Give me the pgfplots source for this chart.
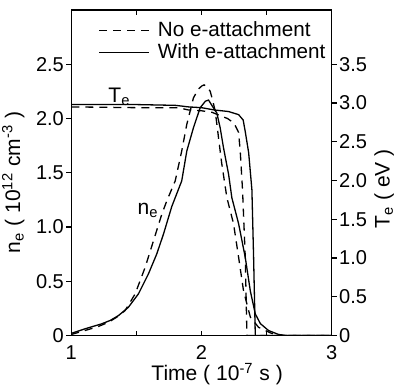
\documentclass[border=0pt]{standalone}
\usepackage{fontspec}
\setmainfont{Liberation Sans}
\usepackage{pgfplots}
\pgfplotsset{compat=1.18}
\begin{document}
\begin{tikzpicture}[font=\fontsize{10}{12}\selectfont]
\pgfplotsset{every axis/.append style={
  scale only axis, width=130pt, height=162.5pt, xmin=1, xmax=3,
  /pgf/number format/assume math mode=true,
  axis line style={line width=0.75pt},
  major tick style={line width=0.6pt, black},
  major tick length=2.5pt,
  tick label style={font=\fontsize{10}{12}\selectfont},
  yticklabel style={inner xsep=1pt},
  label style={font=\fontsize{10.5}{12}\selectfont, inner sep=1pt},
}}
\begin{axis}[name=ax, ymin=0, ymax=3,
  xtick={1,1.5,2,2.5,3}, xticklabels={1,,2,,3},
  ytick={0,0.5,1,1.5,2,2.5}, yticklabels={0,0.5,1.0,1.5,2.0,2.5},
  xtick pos=both, xticklabel pos=bottom, ytick pos=left, xtick align=inside, ytick align=outside,
  xticklabel style={yshift=-1.5pt},
  xlabel={Time ( 10\textsuperscript{-7} s )},
  xlabel style={at={(ticklabel cs:0.56)}},
  xlabel shift=-3pt,
  ylabel={n\textsubscript{e} ( 10\textsuperscript{12} cm\textsuperscript{-3} )},
  ylabel style={at={(ticklabel cs:0.47)}},
  ylabel shift=3.5pt,
  legend style={draw=none, fill=none, at={(0.08,0.99)}, anchor=north west, row sep=-2pt, font=\fontsize{10.3}{12}\selectfont},
  legend cell align=left,
  legend image code/.code={\draw[#1] (0cm,0cm) -- (0.88cm,0cm); \path (0.95cm,0cm);},
]
\addplot[black, line width=0.65pt, dash pattern=on 4pt off 3pt] coordinates {
(1.0,0.01)(1.1,0.045)(1.2,0.08)(1.285,0.122)(1.35,0.17)(1.413,0.23)(1.49,0.383)(1.567,0.628)(1.631,0.873)(1.695,1.118)(1.733,1.24)(1.798,1.425)(1.848,1.70)(1.887,1.946)(1.938,2.19)(1.975,2.27)(2.002,2.30)(2.02,2.31)(2.045,2.29)(2.067,2.25)(2.085,2.17)(2.105,2.07)(2.131,1.82)(2.156,1.58)(2.195,1.27)(2.246,1.03)(2.285,0.72)(2.323,0.41)(2.375,0.17)(2.438,0.076)(2.538,0.02)(2.63,0)(3,0)};
\addlegendentry{No e-attachment}
\addplot[black, line width=0.65pt] coordinates {
(1.0,0.02)(1.105,0.062)(1.233,0.108)(1.30,0.14)(1.362,0.184)(1.438,0.26)(1.515,0.383)(1.592,0.567)(1.656,0.751)(1.708,0.935)(1.746,1.087)(1.772,1.19)(1.848,1.425)(1.887,1.70)(1.938,1.915)(1.99,2.10)(2.03,2.16)(2.054,2.17)(2.08,2.12)(2.118,2.05)(2.144,1.91)(2.169,1.73)(2.208,1.486)(2.233,1.27)(2.285,1.03)(2.336,0.72)(2.375,0.41)(2.413,0.20)(2.452,0.11)(2.515,0.046)(2.592,0.01)(2.65,0)(3,0)};
\addlegendentry{With e-attachment}
\node[font=\fontsize{10.5}{12}\selectfont] at (axis cs:1.37,2.2) {T\textsubscript{e}};
\node[font=\fontsize{10.5}{12}\selectfont] at (axis cs:1.59,1.15) {n\textsubscript{e}};
\end{axis}
\begin{axis}[ymin=0, ymax=4.2,
  axis x line=none, axis y line*=right,
  ytick={0,0.5,1,1.5,2,2.5,3,3.5}, yticklabels={0,0.5,1.0,1.5,2.0,2.5,3.0,3.5},
  ytick align=outside,
  ylabel={T\textsubscript{e} ( eV )},
  ylabel style={at={(ticklabel cs:0.45)}},
  ylabel shift=1.5pt,
]
\addplot[black, line width=0.65pt, dash pattern=on 4pt off 3pt] coordinates {
(1,2.95)(1.5,2.94)(1.82,2.94)(1.9,2.91)(2.0,2.90)(2.08,2.88)(2.2,2.80)(2.25,2.74)(2.285,2.62)(2.298,2.36)(2.315,1.88)(2.336,1.01)(2.348,0.06)(2.35,0)(3,0)};
\addplot[black, line width=0.65pt] coordinates {
(1,2.98)(1.5,2.98)(1.8,2.97)(1.9,2.95)(2.0,2.94)(2.1,2.91)(2.208,2.89)(2.285,2.85)(2.32,2.78)(2.336,2.63)(2.362,2.36)(2.387,1.88)(2.40,1.01)(2.413,0)(3,0)};
\end{axis}
\path ([yshift=5pt]ax.north);
\end{tikzpicture}
\end{document}
